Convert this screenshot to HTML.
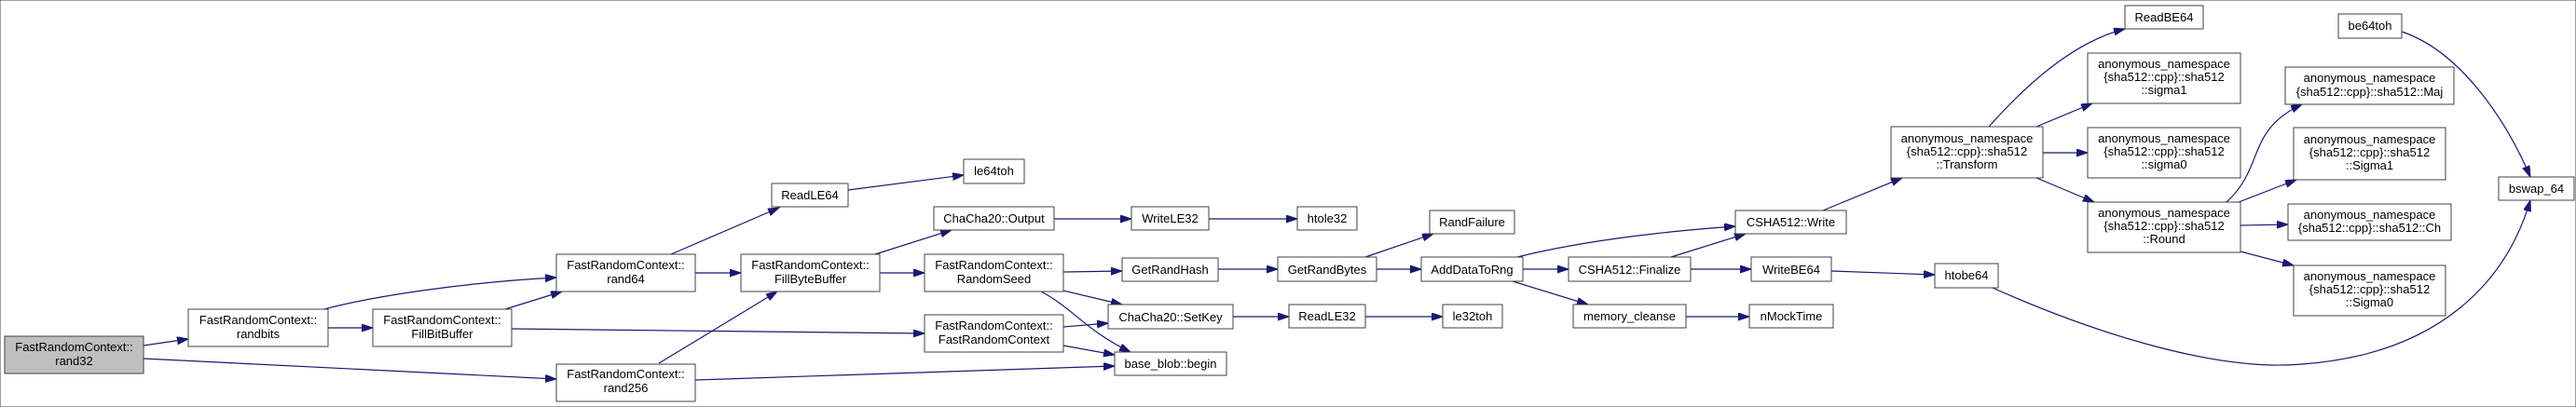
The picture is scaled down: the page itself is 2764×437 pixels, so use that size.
<!DOCTYPE html>
<html><head><meta charset="utf-8"><style>
html,body{margin:0;padding:0;background:#fff}
svg{display:block}
text{font-family:"Liberation Sans",sans-serif;font-size:13px;fill:#000}
rect{stroke:#404040;stroke-width:1;fill:#fff}
path{stroke:#191970;stroke-width:1.2;fill:none;marker-end:url(#a)}
</style></head><body>
<svg width="2764" height="437" viewBox="0 0 2764 437" xmlns="http://www.w3.org/2000/svg">
<defs><marker id="a" markerUnits="userSpaceOnUse" markerWidth="14" markerHeight="10" refX="12" refY="4" orient="auto"><polygon points="0,0 12,4 0,8" fill="#191970" stroke="#191970"/></marker></defs>
<rect width="2764" height="437" fill="#fff" stroke="none"/>
<path d="M154,371 L202,364"/>
<path d="M154,385 L597,407"/>
<path d="M348,332 C400,318 500,303 597,298"/>
<path d="M352,352 L400,352"/>
<path d="M542,332 L603,313"/>
<path d="M549,353 L992,358"/>
<path d="M720,273 L836,223"/>
<path d="M746,293 L795,293"/>
<path d="M707,390 L834,313"/>
<path d="M746,408 L1196,393"/>
<path d="M910,204 L1034,188"/>
<path d="M939,273 L1021,247"/>
<path d="M944,293 L992,293"/>
<path d="M1131,235 L1214,235"/>
<path d="M1297,235 L1392,235"/>
<path d="M1141,292 L1204,291"/>
<path d="M1141,312 L1204,327"/>
<path d="M1117,313 C1150,330 1165,355 1213,378"/>
<path d="M1141,351 L1189,347"/>
<path d="M1141,371 L1196,381"/>
<path d="M1307,289 L1371,289"/>
<path d="M1323,340 L1383,340"/>
<path d="M1465,276 L1538,251"/>
<path d="M1477,289 L1525,289"/>
<path d="M1465,340 L1548,340"/>
<path d="M1628,276 C1700,258 1790,248 1862,243"/>
<path d="M1634,289 L1683,289"/>
<path d="M1623,302 L1704,327"/>
<path d="M1793,276 L1873,251"/>
<path d="M1814,289 L1879,289"/>
<path d="M1809,340 L1877,340"/>
<path d="M1965,291 L2076,295"/>
<path d="M1956,226 L2041,191"/>
<path d="M2138,309 C2230,350 2370,400 2470,391 C2620,380 2690,300 2715,215"/>
<path d="M2577,34 C2640,55 2690,130 2715,190"/>
<path d="M2134,136 C2175,90 2225,45 2280,31"/>
<path d="M2185,136 L2245,111"/>
<path d="M2192,164 L2240,164"/>
<path d="M2185,191 L2247,217"/>
<path d="M2389,217 C2430,180 2410,140 2470,112"/>
<path d="M2402,217 L2464,193"/>
<path d="M2404,242 L2455,241"/>
<path d="M2404,270 L2461,285"/>
<rect x="5" y="361" width="149" height="40" style="fill:#bfbfbf"/>
<rect x="202" y="332" width="150" height="40"/>
<rect x="400" y="332" width="149" height="40"/>
<rect x="597" y="273" width="149" height="40"/>
<rect x="597" y="391" width="149" height="40"/>
<rect x="828" y="197" width="82" height="25"/>
<rect x="1034" y="171" width="65" height="26"/>
<rect x="1002" y="222" width="129" height="25"/>
<rect x="1214" y="222" width="83" height="25"/>
<rect x="1392" y="222" width="64" height="25"/>
<rect x="795" y="273" width="149" height="40"/>
<rect x="992" y="273" width="149" height="40"/>
<rect x="1204" y="277" width="103" height="25"/>
<rect x="1189" y="327" width="134" height="26"/>
<rect x="992" y="338" width="149" height="40"/>
<rect x="1196" y="378" width="120" height="25"/>
<rect x="1371" y="276" width="106" height="26"/>
<rect x="1383" y="327" width="82" height="25"/>
<rect x="1534" y="226" width="91" height="25"/>
<rect x="1525" y="276" width="109" height="26"/>
<rect x="1548" y="327" width="64" height="25"/>
<rect x="1862" y="226" width="119" height="25"/>
<rect x="1683" y="276" width="131" height="26"/>
<rect x="1879" y="276" width="86" height="26"/>
<rect x="1688" y="327" width="121" height="25"/>
<rect x="1877" y="327" width="90" height="25"/>
<rect x="2029" y="136" width="163" height="55"/>
<rect x="2076" y="283" width="68" height="26"/>
<rect x="2280" y="6" width="84" height="25"/>
<rect x="2509" y="15" width="68" height="26"/>
<rect x="2240" y="57" width="164" height="54"/>
<rect x="2240" y="137" width="164" height="54"/>
<rect x="2240" y="217" width="164" height="54"/>
<rect x="2452" y="72" width="181" height="40"/>
<rect x="2461" y="137" width="163" height="56"/>
<rect x="2455" y="219" width="175" height="39"/>
<rect x="2461" y="285" width="163" height="54"/>
<rect x="2681" y="190" width="81" height="25"/>
<g text-anchor="middle">
<text x="79.5" y="377">FastRandomContext::</text><text x="79.5" y="392">rand32</text>
<text x="277" y="348">FastRandomContext::</text><text x="277" y="363">randbits</text>
<text x="474.5" y="348">FastRandomContext::</text><text x="474.5" y="363">FillBitBuffer</text>
<text x="671.5" y="289">FastRandomContext::</text><text x="671.5" y="304">rand64</text>
<text x="671.5" y="406">FastRandomContext::</text><text x="671.5" y="421">rand256</text>
<text x="869" y="214">ReadLE64</text>
<text x="1066.5" y="188">le64toh</text>
<text x="1066.5" y="239">ChaCha20::Output</text>
<text x="1255.5" y="239">WriteLE32</text>
<text x="1424" y="239">htole32</text>
<text x="869.5" y="289">FastRandomContext::</text><text x="869.5" y="304">FillByteBuffer</text>
<text x="1066.5" y="289">FastRandomContext::</text><text x="1066.5" y="304">RandomSeed</text>
<text x="1255.5" y="294">GetRandHash</text>
<text x="1424" y="294">GetRandBytes</text>
<text x="1256" y="345">ChaCha20::SetKey</text>
<text x="1424" y="344">ReadLE32</text>
<text x="1066.5" y="354">FastRandomContext::</text><text x="1066.5" y="369">FastRandomContext</text>
<text x="1256" y="395">base_blob::begin</text>
<text x="1579.5" y="243">RandFailure</text>
<text x="1579.5" y="294">AddDataToRng</text>
<text x="1580" y="344">le32toh</text>
<text x="1921.5" y="243">CSHA512::Write</text>
<text x="1748.5" y="294">CSHA512::Finalize</text>
<text x="1922" y="294">WriteBE64</text>
<text x="1748.5" y="344">memory_cleanse</text>
<text x="1922" y="344">nMockTime</text>
<text x="2110.5" y="153">anonymous_namespace</text><text x="2110.5" y="167">{sha512::cpp}::sha512</text><text x="2110.5" y="181">::Transform</text>
<text x="2110" y="300">htobe64</text>
<text x="2322" y="23">ReadBE64</text>
<text x="2543" y="32">be64toh</text>
<text x="2322" y="73">anonymous_namespace</text><text x="2322" y="87">{sha512::cpp}::sha512</text><text x="2322" y="101">::sigma1</text>
<text x="2322" y="153">anonymous_namespace</text><text x="2322" y="167">{sha512::cpp}::sha512</text><text x="2322" y="181">::sigma0</text>
<text x="2322" y="233">anonymous_namespace</text><text x="2322" y="247">{sha512::cpp}::sha512</text><text x="2322" y="261">::Round</text>
<text x="2542.5" y="88">anonymous_namespace</text><text x="2542.5" y="103">{sha512::cpp}::sha512::Maj</text>
<text x="2542.5" y="154">anonymous_namespace</text><text x="2542.5" y="168">{sha512::cpp}::sha512</text><text x="2542.5" y="182">::Sigma1</text>
<text x="2542.5" y="235">anonymous_namespace</text><text x="2542.5" y="249">{sha512::cpp}::sha512::Ch</text>
<text x="2542.5" y="301">anonymous_namespace</text><text x="2542.5" y="315">{sha512::cpp}::sha512</text><text x="2542.5" y="329">::Sigma0</text>
<text x="2721.5" y="207">bswap_64</text>
</g>
</svg>
</body></html>
